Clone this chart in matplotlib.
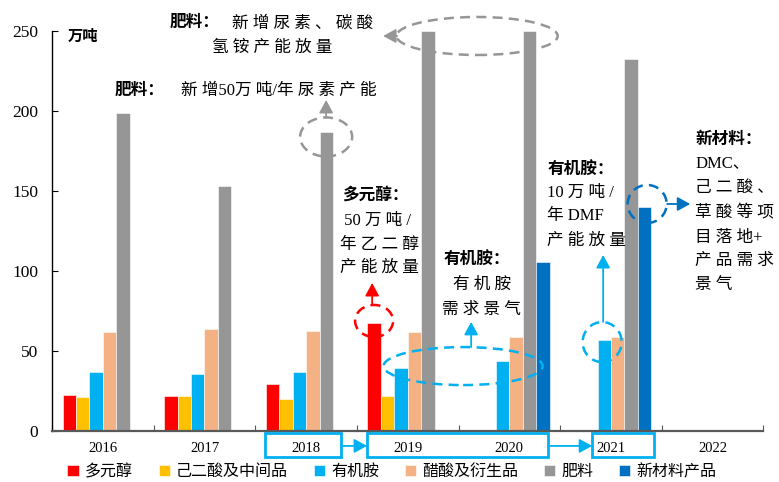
import numpy as np
import matplotlib.pyplot as plt
from matplotlib.patches import Ellipse, Rectangle
import matplotlib.transforms as mtransforms

plt.rcParams['font.family'] = ['Liberation Serif', 'Noto Sans CJK SC']
plt.rcParams['axes.unicode_minus'] = False

years = ['2016', '2017', '2018', '2019', '2020', '2021', '2022']
series = ['多元醇', '己二酸及中间品', '有机胺', '醋酸及衍生品', '肥料', '新材料产品']
nan = np.nan
polyol = [22.5, 21.5, 29.4, 67.3, nan, nan, nan]
adipic = [21.0, 21.5, 19.8, 22.0, nan, nan, nan]
amine = [37.0, 35.4, 36.7, 39.0, 43.4, 57.0, nan]
acetic = [62.0, 63.7, 62.3, 61.7, 58.5, 58.5, nan]
fertilizer = [198.5, 153.0, 187.0, 250.0, 250.0, 232.3, nan]
new_mat = [nan, nan, nan, nan, 105.2, 139.6, nan]
colors = ['#FF0000', '#FFC000', '#00B0F0', '#F4B183', '#969696', '#0070C0']


def spread(s):
    # 汉字之间加空格，数字/字母前后不加
    out = ''
    for i, ch in enumerate(s):
        if i > 0 and not (s[i - 1].isascii() or ch.isascii()):
            out += ' '
        out += ch
    return out


fig = plt.figure(figsize=(7.79, 4.82), dpi=100)
ax = fig.add_axes([0.0668, 0.1064, 0.9132, 0.8299])

x = np.arange(len(years))
w = 0.132
for i, (vals, c, name) in enumerate(zip([polyol, adipic, amine, acetic, fertilizer, new_mat], colors, series)):
    ax.bar(x + (i - 2.5) * w, vals, w, color=c, edgecolor='white', linewidth=0.4, label=name)

ax.set_xlim(-0.5, 6.5)
ax.set_ylim(0, 250)
ax.set_yticks(np.arange(0, 251, 50))
ax.tick_params(axis='y', direction='in', length=4, labelsize=12.5, pad=10)
ax.set_xticks(np.arange(-0.5, 6.6, 1))
ax.set_xticklabels([])
ax.set_xticks(x, minor=True)
ax.set_xticklabels(years, minor=True)
ax.tick_params(axis='x', which='major', direction='in', length=4, color='#595959')
ax.tick_params(axis='x', which='minor', length=0, labelsize=10.5, pad=8)
for s in ['top', 'right']:
    ax.spines[s].set_visible(False)
ax.spines['bottom'].set_color('#595959')
ax.spines['bottom'].set_linewidth(1.6)
ax.spines['left'].set_linewidth(1.0)

ax.text(-0.343, 246.0, '万吨', fontsize=11, fontweight='bold', va='center', ha='left')

fs = 12
grey = '#969696'
blue = '#00B0F0'
navy = '#0070C0'
arrow_style = '-|>,head_length=0.55,head_width=0.3'


def ring(cx, cy, wd, ht, col):
    ax.add_patch(Ellipse((cx, cy), wd, ht, fill=False, edgecolor=col, linestyle=(0, (4, 2.5)),
                         linewidth=1.8, clip_on=False, zorder=5))


def arrow(x0, y0, x1, y1, col):
    ax.annotate('', xy=(x1, y1), xytext=(x0, y0), annotation_clip=False,
                arrowprops=dict(arrowstyle=arrow_style, color=col, lw=1.3, mutation_scale=14,
                                shrinkA=0, shrinkB=0), zorder=5)


def label(xx, yy, s, ha='left', bold=False):
    ax.text(xx, yy - 2, s if bold else spread(s), fontsize=fs, va='center', ha=ha,
            fontweight='bold' if bold else 'normal', clip_on=False)


# 肥料 2019-2020
ring(3.683, 246.7, 1.585, 23.75, grey)
arrow(2.896, 246.7, 2.758, 246.7, grey)
label(0.661, 256.7, '肥料：', bold=True)
label(1.272, 256.7, '新增尿素、碳酸')
label(1.665, 241.0, '氢铵产能放量', ha='center')

# 肥料 2018
ring(2.197, 183.6, 0.512, 24.4, grey)
arrow(2.197, 195.4, 2.197, 206.7, grey)
label(0.120, 214.2, '肥料：', bold=True)
label(0.770, 214.2, '新增50万吨/年尿素产能')

# 多元醇 2019
ring(2.669, 68.6, 0.374, 20.0, '#FF0000')
arrow(2.65, 79.2, 2.65, 92.3, '#FF0000')
label(2.354, 148.6, '多元醇：', bold=True)
for yy, s in zip([132.9, 117.9, 103.6], [' 50 万吨 /', '年乙二醇', '产能放量']):
    label(2.335, yy, s)

# 有机胺 2019-2020
ring(3.545, 40.4, 1.565, 23.75, blue)
arrow(3.624, 52.3, 3.624, 68.0, blue)
label(3.683, 107.9, '有机胺：', ha='center', bold=True)
label(3.73, 92.9, '有机胺', ha='center')
label(3.73, 77.3, '需求景气', ha='center')

# 有机胺 2021
ring(4.913, 55.4, 0.384, 25.0, blue)
arrow(4.923, 68.0, 4.923, 109.8, blue)
label(4.372, 164.2, '有机胺：', bold=True)
for yy, s in zip([150.4, 136.1, 120.4], ['10 万吨 /', '年 DMF', '产能放量']):
    label(4.372, yy, s)

# 新材料 2021
ring(5.356, 141.7, 0.384, 23.75, navy)
arrow(5.553, 141.7, 5.78, 141.7, navy)
label(5.829, 183.6, '新材料：', bold=True)
for yy, s in zip([169.2, 153.6, 138.0, 122.3, 107.9, 92.9],
                 ['DMC、', '己二酸、', '草酸等项', '目落地+', '产品需求', '景气']):
    label(5.829, yy, s)

# 年份方框
trans = mtransforms.blended_transform_factory(ax.transData, ax.transAxes)
for x0, x1 in [(1.596, 2.344), (2.60, 4.38), (4.815, 5.425)]:
    ax.add_patch(Rectangle((x0, -0.066), x1 - x0, 0.06, transform=trans, fill=False,
                           edgecolor=blue, linewidth=2, clip_on=False))
for x0, x1 in [(2.344, 2.60), (4.38, 4.815)]:
    ax.annotate('', xy=(x1, -0.038), xytext=(x0, -0.038), xycoords=trans, textcoords=trans,
                annotation_clip=False,
                arrowprops=dict(arrowstyle=arrow_style, color=blue, lw=1.3, mutation_scale=14,
                                shrinkA=0, shrinkB=0))

fig.legend(loc='center', bbox_to_anchor=(392 / 779, 1 - 472 / 482), ncol=6, frameon=False,
           fontsize=11.5, handlelength=0.7, handleheight=0.7, handletextpad=0.4, columnspacing=1.6)

fig.savefig('out.png', dpi=100)
